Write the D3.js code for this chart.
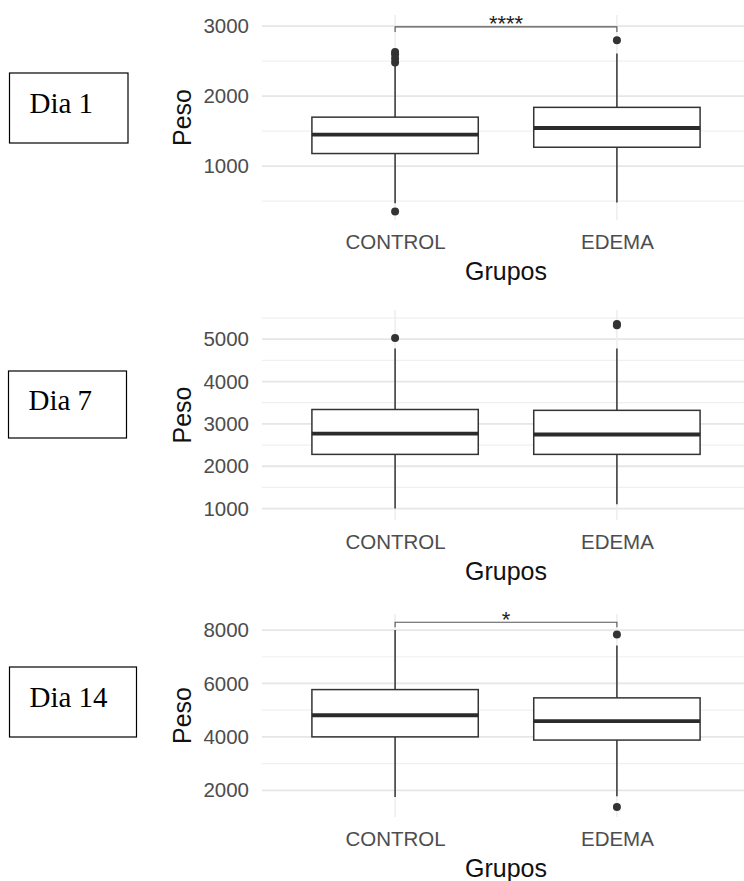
<!DOCTYPE html>
<html>
<head>
<meta charset="utf-8">
<script src="https://cdn.jsdelivr.net/npm/d3@7"></script>
<style>
  body { margin: 0; background: #fff; }
  svg { display: block; }
</style>
</head>
<body>
<svg id="chart" width="744" height="881"></svg>
<script>
// --- 1. Datos ---
const groups = ["CONTROL", "EDEMA"];
const dayLabels = ["Dia 1", "Dia 7", "Dia 14"];

// [bigote inferior, Q1, mediana, Q3, bigote superior]
const dia1Control = [470, 1180, 1450, 1700, 2440];
const dia1Edema = [480, 1270, 1545, 1840, 2610];
const dia1ControlOut = [350, 2480, 2540, 2600, 2630];
const dia1EdemaOut = [2800];
const dia1Ticks = [1000, 2000, 3000];
const dia1Limits = [230, 3160];
const dia1Bracket = 2990;
const dia1Signif = "****";

const dia7Control = [1000, 2280, 2770, 3340, 4780];
const dia7Edema = [1100, 2280, 2750, 3320, 4780];
const dia7ControlOut = [5030];
const dia7EdemaOut = [5330, 5360];
const dia7Ticks = [1000, 2000, 3000, 4000, 5000];
const dia7Limits = [730, 5690];

const dia14Control = [1750, 4000, 4810, 5770, 8000];
const dia14Edema = [1780, 3880, 4590, 5460, 7420];
const dia14ControlOut = [];
const dia14EdemaOut = [1370, 7830];
const dia14Ticks = [2000, 4000, 6000, 8000];
const dia14Limits = [1000, 8600];
const dia14Bracket = 8290;
const dia14Signif = "*";

// --- 2. Disposición ---
const svg = d3.select("#chart");
const sansFont = "Arial, 'Liberation Sans', sans-serif";
const panelLeft = 262, panelRight = 750;

const panels = [
  { label: dayLabels[0], top: 15, bottom: 220, limits: dia1Limits, ticks: dia1Ticks,
    stats: [dia1Control, dia1Edema], outliers: [dia1ControlOut, dia1EdemaOut],
    bracket: dia1Bracket, signif: dia1Signif, dayBox: [9.5, 73, 118.5, 70] },
  { label: dayLabels[1], top: 310, bottom: 520, limits: dia7Limits, ticks: dia7Ticks,
    stats: [dia7Control, dia7Edema], outliers: [dia7ControlOut, dia7EdemaOut],
    bracket: null, signif: null, dayBox: [8.5, 371, 118, 67] },
  { label: dayLabels[2], top: 614, bottom: 817, limits: dia14Limits, ticks: dia14Ticks,
    stats: [dia14Control, dia14Edema], outliers: [dia14ControlOut, dia14EdemaOut],
    bracket: dia14Bracket, signif: dia14Signif, dayBox: [9.5, 667, 127, 70] }
];

const x = d3.scalePoint().domain(groups).range([panelLeft, panelRight]).padding(0.6);
const boxW = x.step() * 0.75;

// --- 3. Dibujo de cada panel ---
function drawPanel(p) {
  const g = svg.append("g");
  const y = d3.scaleLinear().domain(p.limits).range([p.bottom, p.top]);

  // rejilla menor: a medio camino entre las marcas principales
  const step = p.ticks[1] - p.ticks[0];
  const minor = p.ticks.map(t => t - step / 2)
    .concat([p.ticks[p.ticks.length - 1] + step / 2])
    .filter(v => v > p.limits[0] && v < p.limits[1]);

  g.selectAll(".minor").data(minor).join("line")
    .attr("x1", panelLeft).attr("x2", 744)
    .attr("y1", d => y(d)).attr("y2", d => y(d))
    .attr("stroke", "#f0f0f0").attr("stroke-width", 1.2);

  g.selectAll(".major").data(p.ticks).join("line")
    .attr("x1", panelLeft).attr("x2", 744)
    .attr("y1", d => y(d)).attr("y2", d => y(d))
    .attr("stroke", "#e6e6e6").attr("stroke-width", 1.8);

  g.selectAll(".vgrid").data(groups).join("line")
    .attr("x1", d => x(d)).attr("x2", d => x(d))
    .attr("y1", p.top).attr("y2", p.bottom)
    .attr("stroke", "#eeeeee").attr("stroke-width", 1.6);

  // ejes
  const yAxis = g.append("g")
    .attr("transform", `translate(${panelLeft},0)`)
    .call(d3.axisLeft(y).tickValues(p.ticks).tickSize(0).tickPadding(13).tickFormat(d3.format("d")));
  yAxis.select(".domain").remove();
  yAxis.selectAll("text").attr("fill", "#4d4d4d").style("font", `20.5px ${sansFont}`);

  const xAxis = g.append("g")
    .attr("transform", `translate(0,${p.bottom})`)
    .call(d3.axisBottom(x).tickSize(0).tickPadding(14));
  xAxis.select(".domain").remove();
  xAxis.selectAll("text").attr("fill", "#4d4d4d").style("font", `20.5px ${sansFont}`);

  g.append("text")
    .attr("transform", `translate(191,${(p.top + p.bottom) / 2}) rotate(-90)`)
    .attr("text-anchor", "middle")
    .style("font", `25px ${sansFont}`)
    .attr("fill", "#111")
    .text("Peso");

  g.append("text")
    .attr("x", (x(groups[0]) + x(groups[1])) / 2)
    .attr("y", p.bottom + 60)
    .attr("text-anchor", "middle")
    .style("font", `25px ${sansFont}`)
    .attr("fill", "#111")
    .text("Grupos");

  // cajas
  groups.forEach((grp, i) => {
    const [lo, q1, med, q3, hi] = p.stats[i];
    const cx = x(grp);
    const bg = g.append("g");
    bg.append("line").attr("x1", cx).attr("x2", cx).attr("y1", y(hi)).attr("y2", y(q3))
      .attr("stroke", "#333").attr("stroke-width", 1.5);
    bg.append("line").attr("x1", cx).attr("x2", cx).attr("y1", y(q1)).attr("y2", y(lo))
      .attr("stroke", "#333").attr("stroke-width", 1.5);
    bg.append("rect")
      .attr("x", cx - boxW / 2).attr("width", boxW)
      .attr("y", y(q3)).attr("height", y(q1) - y(q3))
      .attr("fill", "#fff").attr("stroke", "#333").attr("stroke-width", 1.5);
    bg.append("line").attr("x1", cx - boxW / 2).attr("x2", cx + boxW / 2)
      .attr("y1", y(med)).attr("y2", y(med))
      .attr("stroke", "#2b2b2b").attr("stroke-width", 3.8);
    bg.selectAll("circle").data(p.outliers[i]).join("circle")
      .attr("cx", cx).attr("cy", d => y(d)).attr("r", 4)
      .attr("fill", "#333");
  });

  // corchete de significancia
  if (p.bracket !== null) {
    const by = y(p.bracket);
    const x0 = x(groups[0]), x1 = x(groups[1]);
    g.append("path")
      .attr("d", `M${x0},${by + 5}V${by}H${x1}V${by + 5}`)
      .attr("fill", "none").attr("stroke", "#555").attr("stroke-width", 1.1);
    g.append("text")
      .attr("x", (x0 + x1) / 2).attr("y", by + 4.5)
      .attr("text-anchor", "middle")
      .style("font", `22px ${sansFont}`)
      .attr("fill", "#222")
      .text(p.signif);
  }

  // recuadro del día
  const [bx, bty, bw, bh] = p.dayBox;
  svg.append("rect")
    .attr("x", bx).attr("y", bty).attr("width", bw).attr("height", bh)
    .attr("fill", "#fff").attr("stroke", "#000").attr("stroke-width", 1.2);
  svg.append("text")
    .attr("x", bx + 20).attr("y", bty + bh / 2 + 5)
    .style("font", `29px 'Times New Roman', 'Liberation Serif', serif`)
    .attr("fill", "#000")
    .text(p.label);
}

panels.forEach(drawPanel);
</script>
</body>
</html>
